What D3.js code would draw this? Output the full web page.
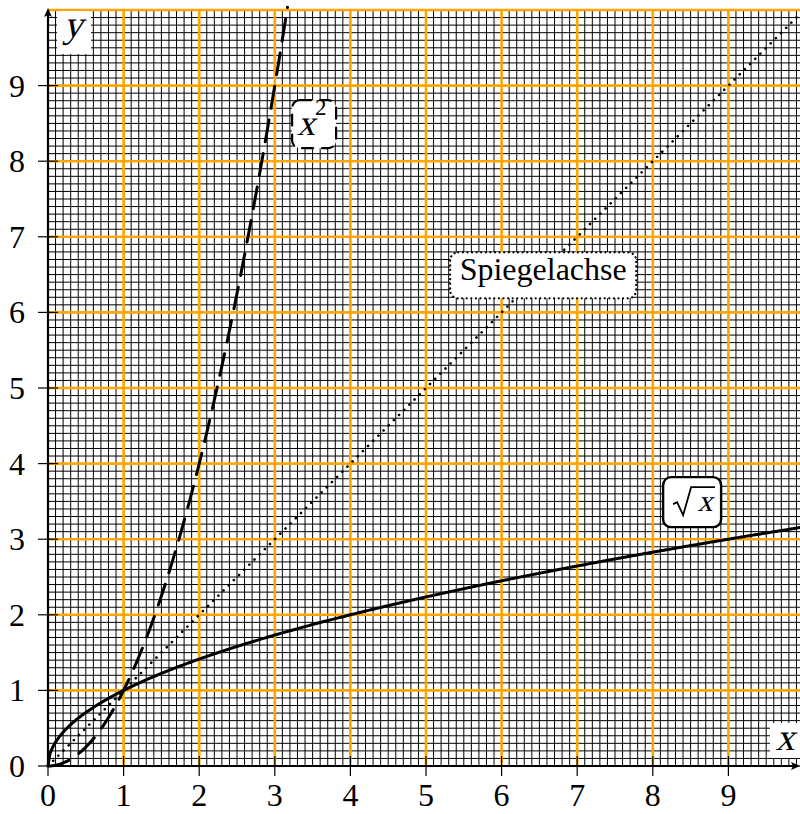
<!DOCTYPE html>
<html>
<head>
<meta charset="UTF-8">
<script src="https://d3js.org/d3.v7.min.js"></script>
</head>
<body style="margin:0;overflow:hidden">
<script>
// axis range and ticks
const xDomain = [0, 10]
const yDomain = [0, 10]
const tickValues = [0, 1, 2, 3, 4, 5, 6, 7, 8, 9]
const majorGrid = [1, 2, 3, 4, 5, 6, 7, 8, 9, 10]

// plotted functions
const curves = [
    { name: "sqrt", f: x => Math.sqrt(x), from: 0, to: 10, dash: null, width: 3 },
    { name: "square", f: x => x * x, from: 0, to: 3.2, dash: "22 12", width: 3 },
    { name: "mirror", f: x => x, from: 0, to: 10, dash: "0.1 7.2", width: 2.6 }
]

// labels in data units
const boxes = [
    { kind: "sq", cx: 3.52, cy: 8.49, w: 44, h: 48, dash: "11 9" },
    { kind: "text", text: "Spiegelachse", cx: 6.55, cy: 6.49, w: 186, h: 46, dash: "0.1 4.5" },
    { kind: "root", cx: 8.52, cy: 3.49, w: 58, h: 50, dash: null }
]

const W = 800, H = 814
const svg = d3.select("body").append("svg").attr("width", W).attr("height", H)

const x = d3.scaleLinear().domain(xDomain).range([48, 804])
const y = d3.scaleLinear().domain(yDomain).range([766, 10])

// text helper: align = "middle" | "end" | "start", slanted for math letters
function put(parent, str, size, px, baseline, align, slant) {
    const g = parent.append("g")
    const t = g.append("text")
        .attr("font-family", '"Liberation Serif"')
        .attr("font-size", size)
        .text(str)
    const w = t.node().getComputedTextLength()
    let x0 = px
    if (align === "middle") x0 = px - w / 2
    if (align === "end") x0 = px - w
    g.attr("transform", `translate(${x0},${baseline})` + (slant ? " skewX(-14)" : ""))
    return t
}

const plot = svg.append("g")

// fine grid every 0.1
const fine = d3.range(0, 101).map(i => i / 10)
plot.append("g").selectAll("line").data(fine).enter().append("line")
    .attr("x1", d => x(d)).attr("x2", d => x(d))
    .attr("y1", y(10)).attr("y2", y(0))
    .attr("stroke", "#000").attr("stroke-width", 1)
plot.append("g").selectAll("line").data(fine).enter().append("line")
    .attr("y1", d => y(d)).attr("y2", d => y(d))
    .attr("x1", x(0)).attr("x2", W)
    .attr("stroke", "#000").attr("stroke-width", 1)

// orange integer grid
plot.append("g").selectAll("line").data(majorGrid).enter().append("line")
    .attr("x1", d => x(d)).attr("x2", d => x(d))
    .attr("y1", y(10)).attr("y2", y(0))
    .attr("stroke", "#ffa500").attr("stroke-width", 2.6)
plot.append("g").selectAll("line").data(majorGrid).enter().append("line")
    .attr("y1", d => y(d)).attr("y2", d => y(d))
    .attr("x1", x(0)).attr("x2", W)
    .attr("stroke", "#ffa500").attr("stroke-width", 2.6)

// axes
svg.append("line").attr("x1", x(0)).attr("x2", W - 2).attr("y1", y(0)).attr("y2", y(0))
    .attr("stroke", "#000").attr("stroke-width", 2.2)
svg.append("line").attr("x1", x(0)).attr("x2", x(0)).attr("y1", y(0)).attr("y2", 12)
    .attr("stroke", "#000").attr("stroke-width", 2.2)
svg.append("path").attr("d", `M${W},${y(0)} l-9,-4 l2,4 l-2,4 z`).attr("fill", "#000")
svg.append("path").attr("d", `M${x(0)},8 l-4,9 l4,-2 l4,2 z`).attr("fill", "#000")

// ticks
svg.append("g").selectAll("line").data(tickValues).enter().append("line")
    .attr("x1", d => x(d)).attr("x2", d => x(d))
    .attr("y1", y(0) - 10).attr("y2", y(0) + 10)
    .attr("stroke", "#000").attr("stroke-width", 1.2)
svg.append("g").selectAll("line").data(tickValues).enter().append("line")
    .attr("y1", d => y(d)).attr("y2", d => y(d))
    .attr("x1", x(0) - 10).attr("x2", x(0) + 10)
    .attr("stroke", "#000").attr("stroke-width", 1.2)

const xLab = svg.append("g")
tickValues.forEach(d => put(xLab, d, 32, x(d), 806, "middle", false))
const yLab = svg.append("g")
tickValues.forEach(d => put(yLab, d, 32, 25, y(d) + 11, "end", false))

// curves
curves.forEach(c => {
    const pts = d3.range(0, 401).map(i => c.from + (c.to - c.from) * i / 400)
        .map(v => [v, c.f(v)])
        .filter(p => p[1] <= 10.05)
    const p = svg.append("path")
        .datum(pts)
        .attr("d", d3.line().x(d => x(d[0])).y(d => y(d[1])))
        .attr("fill", "none").attr("stroke", "#000")
        .attr("stroke-width", c.width)
        .attr("stroke-linecap", c.dash ? "round" : "butt")
    if (c.dash) p.attr("stroke-dasharray", c.dash)
})

// axis name boxes
svg.append("rect").attr("x", 57).attr("y", 11).attr("width", 34).attr("height", 43)
    .attr("rx", 3).attr("fill", "#fff")
put(svg, "y", 38, 73, 37, "middle", true)
svg.append("rect").attr("x", 770).attr("y", 723).attr("width", 30).attr("height", 35)
    .attr("rx", 3).attr("fill", "#fff")
put(svg, "x", 38, 785, 750, "middle", true)

// curve labels
boxes.forEach(b => {
    const cx = x(b.cx), cy = y(b.cy)
    const r = svg.append("rect")
        .attr("x", cx - b.w / 2).attr("y", cy - b.h / 2)
        .attr("width", b.w).attr("height", b.h)
        .attr("rx", 8).attr("fill", "#fff")
        .attr("stroke", "#000").attr("stroke-width", b.dash ? 2.2 : 2.4)
        .attr("stroke-linecap", "round")
    if (b.dash) r.attr("stroke-dasharray", b.dash)
    if (b.kind === "text") {
        put(svg, b.text, 32, cx, cy + 5, "middle", false)
    } else if (b.kind === "sq") {
        put(svg, "x", 36, cx - 17, cy + 11, "start", true)
        put(svg, "2", 23, cx + 1, cy - 9, "start", false)
    } else {
        svg.append("path")
            .attr("d", `M${cx - 19},${cy + 2} l4,-2 l6,13 l8,-28 l24,0`)
            .attr("fill", "none").attr("stroke", "#000").attr("stroke-width", 1.8)
        put(svg, "x", 30, cx + 13, cy + 9, "middle", true)
    }
})
</script>
</body>
</html>
